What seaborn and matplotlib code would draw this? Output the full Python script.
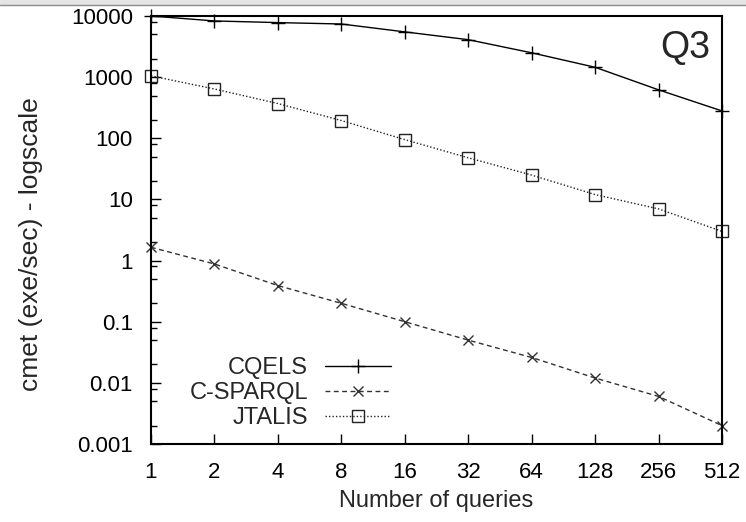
import numpy as np
import pandas as pd
import matplotlib
matplotlib.use('Agg')
import matplotlib.pyplot as plt
from matplotlib.patches import Rectangle
from matplotlib.ticker import LogLocator, NullLocator, NullFormatter
import seaborn as sns

# values (log scale, so rough)
queries = [1, 2, 4, 8, 16, 32, 64, 128, 256, 512]
cqels = [10000, 8300, 7800, 7400, 5500, 4100, 2500, 1450, 620, 280]
csparql = [1.65, 0.88, 0.39, 0.2, 0.1, 0.05, 0.026, 0.012, 0.006, 0.002]
jtalis = [1050, 640, 370, 195, 95, 48, 25, 12, 7, 3]

series_names = ['CQELS', 'C-SPARQL', 'JTALIS']
series_markers = ['+', 'x', 's']
series_sizes = [10, 7.5, 8]
series_dashes = [(None, None), (3.5, 2.5), (1.0, 1.5)]
series_colors = ['#000000', '#333333', '#222222']

ytick_vals = [0.001, 0.01, 0.1, 1, 10, 100, 1000, 10000]
ytick_labels = ['0.001', '0.01', '0.1', '1', '10', '100', '1000', '10000']

df = pd.DataFrame({
    'queries': queries * 3,
    'cmet': cqels + csparql + jtalis,
    'system': np.repeat(series_names, len(queries)),
})

sns.set_style('ticks')
plt.rcParams['font.family'] = ['Liberation Sans', 'DejaVu Sans']

fig = plt.figure(figsize=(7.46, 5.22), dpi=100)
ax = fig.add_axes([151 / 746, 1 - 444 / 522, (722 - 151) / 746, (444 - 16) / 522])

for name, mk, ms, dash, col in zip(series_names, series_markers, series_sizes,
                                   series_dashes, series_colors):
    sub = df[df['system'] == name]
    sns.lineplot(data=sub, x='queries', y='cmet', ax=ax, label=name,
                 color=col, marker=mk, markersize=ms, linewidth=1.0,
                 markeredgewidth=1.0, markerfacecolor='none',
                 markeredgecolor=col, clip_on=False)
    ln = ax.get_lines()[-1]
    if dash[0] is not None:
        ln.set_dashes(dash)

ax.set_xscale('log', base=2)
ax.set_yscale('log')
ax.set_xlim(1, 512)
ax.set_ylim(0.001, 10000)
ax.set_xticks(queries)
ax.set_xticklabels([str(q) for q in queries])
ax.xaxis.set_minor_locator(NullLocator())
ax.set_yticks(ytick_vals)
ax.set_yticklabels(ytick_labels)
ax.yaxis.set_minor_locator(LogLocator(base=10, subs=(2, 5, 8)))
ax.yaxis.set_minor_formatter(NullFormatter())

ax.tick_params(axis='both', which='both', direction='in', top=False, right=False,
               labelsize=16, colors='black', width=1)
ax.tick_params(axis='both', which='major', length=7)
ax.tick_params(axis='y', which='minor', length=4)
ax.tick_params(axis='x', which='major', pad=13)
ax.tick_params(axis='y', which='major', pad=13)

for s in ax.spines.values():
    s.set_visible(True)
    s.set_linewidth(1.5)
    s.set_color('black')

ax.set_xlabel('Number of queries', fontsize=17)
ax.set_ylabel('cmet (exe/sec) - logscale', fontsize=19)
ax.xaxis.set_label_coords(0.5, -0.1075)
ax.yaxis.set_label_coords(-0.19, 0.467)

ax.text(0.979, 0.902, 'Q3', transform=ax.transAxes, ha='right', va='baseline',
        fontsize=27)

leg = ax.legend(loc='center', bbox_to_anchor=(0.244, 0.119), frameon=False,
                markerfirst=False, fontsize=17, labelspacing=0.12,
                handlelength=2.8, handletextpad=0.72, borderpad=0, numpoints=1)

# grey strip at the very top of the screenshot
fig.add_artist(Rectangle((0, 1 - 5 / 522), 1, 5 / 522, transform=fig.transFigure,
                         facecolor='#e4e4e4', edgecolor='none'))
fig.add_artist(plt.Line2D([0, 1], [1 - 5 / 522, 1 - 5 / 522], transform=fig.transFigure,
                          color='#8c8c8c', linewidth=1))

fig.savefig('out.png', dpi=100)
